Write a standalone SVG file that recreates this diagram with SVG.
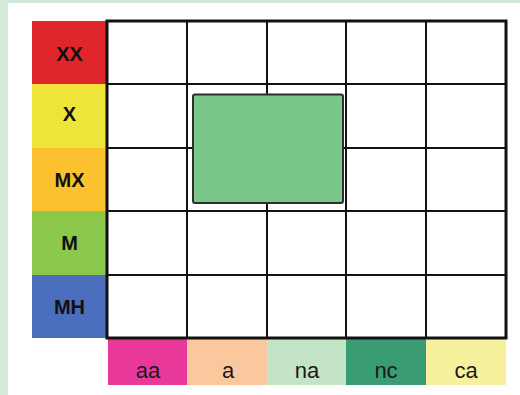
<svg xmlns="http://www.w3.org/2000/svg" width="520" height="395" viewBox="0 0 520 395">
<style>
.lbl{font-family:"Liberation Sans",Arial,sans-serif;font-weight:bold;font-size:20px;fill:#111;text-anchor:middle}
.bl{font-family:"Liberation Sans",Arial,sans-serif;font-size:22px;fill:#1a1a1a;text-anchor:middle}
.g{stroke:#111;stroke-width:2;fill:none}
</style>
<rect x="0" y="0" width="520" height="395" fill="#d3eadb"/>
<rect x="8" y="3" width="512" height="392" fill="#ffffff"/>
<g id="rows">
<g id="row-XX"><rect x="32" y="21" width="75" height="63" fill="#e1262b"/><text class="lbl" x="69.5" y="60.5">XX</text></g>
<g id="row-X"><rect x="32" y="84" width="75" height="64" fill="#efe43a"/><text class="lbl" x="69.5" y="120.5">X</text></g>
<g id="row-MX"><rect x="32" y="148" width="75" height="63" fill="#fbc12e"/><text class="lbl" x="69.5" y="186.5">MX</text></g>
<g id="row-M"><rect x="32" y="211" width="75" height="64" fill="#8bc84b"/><text class="lbl" x="69.5" y="249.5">M</text></g>
<g id="row-MH"><rect x="32" y="275" width="75" height="63" fill="#4a6dbc"/><text class="lbl" x="69.5" y="313.5">MH</text></g>
</g>
<g id="cols">
<g id="col-aa"><rect x="108" y="339" width="79" height="46" fill="#e8399a"/><text class="bl" x="148" y="378">aa</text></g>
<g id="col-a"><rect x="187" y="339" width="80" height="46" fill="#fbc79d"/><text class="bl" x="228" y="378">a</text></g>
<g id="col-na"><rect x="267" y="339" width="79" height="46" fill="#c4e4c6"/><text class="bl" x="307" y="378">na</text></g>
<g id="col-nc"><rect x="346" y="339" width="80" height="46" fill="#3a9c72"/><text class="bl" x="386" y="378">nc</text></g>
<g id="col-ca"><rect x="426" y="339" width="80" height="46" fill="#f7f19e"/><text class="bl" x="466" y="378">ca</text></g>
</g>
<g id="grid">
<path class="g" d="M187 21V338M267 21V338M346 21V338M426 21V338M107 84H506M107 148H506M107 211H506M107 275H506"/>
<rect x="107" y="21" width="399" height="317" fill="none" stroke="#111" stroke-width="3"/>
</g>
<g id="highlight"><rect x="193" y="94.5" width="150" height="108.5" rx="2" fill="#7bc68a" stroke="#2e2e2e" stroke-width="2"/></g>
</svg>
